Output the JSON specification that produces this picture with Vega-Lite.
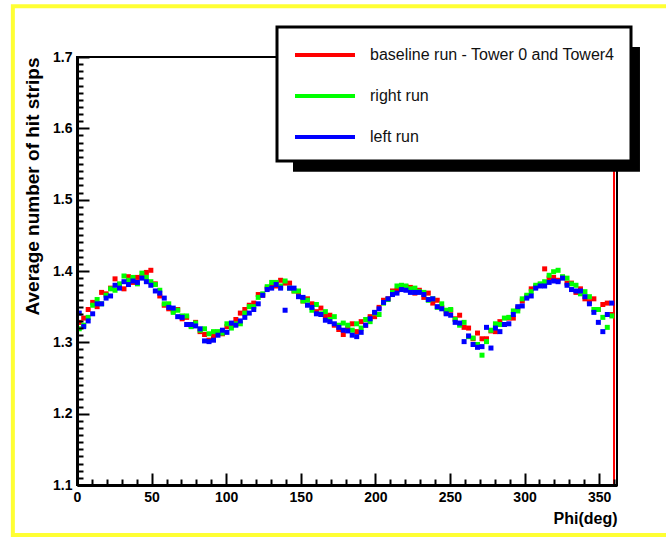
{
  "$schema": "https://vega.github.io/schema/vega-lite/v6.json",
  "width": 540,
  "height": 428,
  "autosize": {"type": "none"},
  "padding": {"left": 77, "top": 57, "right": 49, "bottom": 55},
  "background": "white",
  "config": {
    "font": "Liberation Sans",
    "view": {"stroke": "black", "strokeWidth": 2},
    "axis": {"labelFlush": false, "labelOverlap": false, "grid": false, "tickColor": "black", "domainColor": "black", "labelColor": "black", "titleColor": "black"}
  },
  "resolve": {"axis": {"x": "independent", "y": "independent"}, "legend": {"color": "independent"}},
  "layer": [
    {
      "data": {"values": [{}]},
      "mark": {"type": "rect", "filled": false, "stroke": "#ffff33", "strokeWidth": 4},
      "encoding": {
        "x": {"datum": -43, "type": "quantitative", "scale": {"domain": [0, 362], "nice": false, "zero": false}, "axis": null},
        "x2": {"datum": 430},
        "y": {"datum": 1.771, "type": "quantitative", "scale": {"domain": [1.1, 1.7], "nice": false, "zero": false}, "axis": null},
        "y2": {"datum": 1.03}
      }
    },
    {
      "data": {"values": [{}]},
      "mark": {"type": "rule", "color": "#ff0000", "strokeWidth": 2},
      "encoding": {
        "x": {"datum": 360, "type": "quantitative", "axis": null},
        "y": {"datum": 1.1, "type": "quantitative", "axis": null},
        "y2": {"datum": 1.7}
      }
    },
    {
      "data": {"values": [{}]},
      "mark": {"type": "rect", "fill": "black"},
      "encoding": {
        "x": {"datum": 144.8, "type": "quantitative", "axis": null},
        "x2": {"datum": 377.4},
        "y": {"datum": 1.714, "type": "quantitative", "axis": null},
        "y2": {"datum": 1.539}
      }
    },
    {
      "data": {"name": "pts"},
      "transform": [{"filter": "false"}],
      "mark": {"type": "line"},
      "encoding": {
        "x": {"field": "phi", "type": "quantitative", "axis": null},
        "y": {"field": "v", "type": "quantitative", "axis": null},
        "color": {
          "field": "run", "type": "nominal",
          "scale": {"domain": ["B", "R", "L"], "range": ["#ff0000", "#00ff00", "#0000ff"]},
          "legend": {
            "orient": "none", "legendX": 200, "legendY": -30, "title": null,
            "symbolType": "M-1,0H5", "symbolSize": 400, "symbolStrokeWidth": 4,
            "labelFontSize": 16, "labelColor": "#111", "labelOffset": 53, "labelLimit": 400,
            "labelExpr": "datum.value == 'B' ? 'baseline run - Tower 0 and Tower4' : datum.value == 'R' ? 'right run' : 'left run'",
            "strokeColor": "black", "fillColor": "white", "padding": 16, "rowPadding": 21,
            "encode": {"legend": {"update": {"strokeWidth": {"value": 3}}}}
          }
        }
      }
    },
    {
      "data": {"name": "pts"},
      "mark": {"type": "square", "size": 25, "opacity": 1},
      "encoding": {
        "x": {"field": "phi", "type": "quantitative", "axis": {"orient": "bottom", "zindex": 1,
          "values": [0,10,20,30,40,50,60,70,80,90,100,110,120,130,140,150,160,170,180,190,200,210,220,230,240,250,260,270,280,290,300,310,320,330,340,350,360],
          "labelExpr": "datum.value % 50 == 0 && datum.value < 360 ? datum.label : ''",
          "tickSize": -12, "tickWidth": 2,
          "tickDash": {"condition": {"test": "datum.value % 50 == 0", "value": [100, 0]}, "value": [6, 40]},
          "domainWidth": 3, "labelFontSize": 14, "labelFontWeight": "bold", "labelPadding": 17,
          "title": "Phi(deg)", "titleFontSize": 16, "titleFontWeight": "bold", "titleAnchor": "end", "titlePadding": 6}},
        "y": {"field": "v", "type": "quantitative", "axis": {"orient": "left", "zindex": 1,
          "values": [1.1,1.11,1.12,1.13,1.14,1.15,1.16,1.17,1.18,1.19,1.2,1.21,1.22,1.23,1.24,1.25,1.26,1.27,1.28,1.29,1.3,1.31,1.32,1.33,1.34,1.35,1.36,1.37,1.38,1.39,1.4,1.41,1.42,1.43,1.44,1.45,1.46,1.47,1.48,1.49,1.5,1.51,1.52,1.53,1.54,1.55,1.56,1.57,1.58,1.59,1.6,1.61,1.62,1.63,1.64,1.65,1.66,1.67,1.68,1.69,1.7],
          "labelExpr": "abs(datum.value * 10 - round(datum.value * 10)) < 0.001 ? format(datum.value, '.1f') : ''",
          "tickSize": -12, "tickWidth": 2,
          "tickDash": {"condition": {"test": "abs(datum.value * 10 - round(datum.value * 10)) < 0.001", "value": [100, 0]}, "value": [6, 40]},
          "domainWidth": 3, "labelFontSize": 14, "labelFontWeight": "bold", "labelPadding": 17,
          "title": "Average number of hit strips", "titleFontSize": 19, "titleFontWeight": "bold", "titleAnchor": "end", "titlePadding": 10}},
        "color": {"field": "run", "type": "nominal", "legend": null}
      }
    }
  ],
  "datasets": {
    "pts": [
{"phi":1.5,"run":"B","v":1.328},{"phi":4.5,"run":"B","v":1.334},{"phi":7.5,"run":"B","v":1.346},{"phi":10.5,"run":"B","v":1.356},{"phi":13.5,"run":"B","v":1.350},{"phi":16.5,"run":"B","v":1.370},{"phi":19.5,"run":"B","v":1.368},{"phi":22.5,"run":"B","v":1.376},{"phi":25.5,"run":"B","v":1.389},{"phi":28.5,"run":"B","v":1.381},
{"phi":31.5,"run":"B","v":1.375},{"phi":34.5,"run":"B","v":1.392},{"phi":37.5,"run":"B","v":1.384},{"phi":40.5,"run":"B","v":1.391},{"phi":43.5,"run":"B","v":1.392},{"phi":46.5,"run":"B","v":1.398},{"phi":49.5,"run":"B","v":1.401},{"phi":52.5,"run":"B","v":1.382},{"phi":55.5,"run":"B","v":1.365},{"phi":58.5,"run":"B","v":1.352},
{"phi":61.5,"run":"B","v":1.347},{"phi":64.5,"run":"B","v":1.344},{"phi":67.5,"run":"B","v":1.346},{"phi":70.5,"run":"B","v":1.333},{"phi":73.5,"run":"B","v":1.335},{"phi":76.5,"run":"B","v":1.324},{"phi":79.5,"run":"B","v":1.328},{"phi":82.5,"run":"B","v":1.315},{"phi":85.5,"run":"B","v":1.311},{"phi":88.5,"run":"B","v":1.303},
{"phi":91.5,"run":"B","v":1.309},{"phi":94.5,"run":"B","v":1.314},{"phi":97.5,"run":"B","v":1.312},{"phi":100.5,"run":"B","v":1.322},{"phi":103.5,"run":"B","v":1.323},{"phi":106.5,"run":"B","v":1.332},{"phi":109.5,"run":"B","v":1.341},{"phi":112.5,"run":"B","v":1.346},{"phi":115.5,"run":"B","v":1.352},{"phi":118.5,"run":"B","v":1.355},
{"phi":121.5,"run":"B","v":1.367},{"phi":124.5,"run":"B","v":1.366},{"phi":127.5,"run":"B","v":1.376},{"phi":130.5,"run":"B","v":1.379},{"phi":133.5,"run":"B","v":1.379},{"phi":136.5,"run":"B","v":1.387},{"phi":139.5,"run":"B","v":1.383},{"phi":142.5,"run":"B","v":1.383},{"phi":145.5,"run":"B","v":1.372},{"phi":148.5,"run":"B","v":1.370},
{"phi":151.5,"run":"B","v":1.358},{"phi":154.5,"run":"B","v":1.361},{"phi":157.5,"run":"B","v":1.354},{"phi":160.5,"run":"B","v":1.343},{"phi":163.5,"run":"B","v":1.348},{"phi":166.5,"run":"B","v":1.337},{"phi":169.5,"run":"B","v":1.338},{"phi":172.5,"run":"B","v":1.324},{"phi":175.5,"run":"B","v":1.318},{"phi":178.5,"run":"B","v":1.311},
{"phi":181.5,"run":"B","v":1.320},{"phi":184.5,"run":"B","v":1.326},{"phi":187.5,"run":"B","v":1.315},{"phi":190.5,"run":"B","v":1.329},{"phi":193.5,"run":"B","v":1.324},{"phi":196.5,"run":"B","v":1.336},{"phi":199.5,"run":"B","v":1.336},{"phi":202.5,"run":"B","v":1.349},{"phi":205.5,"run":"B","v":1.359},{"phi":208.5,"run":"B","v":1.361},
{"phi":211.5,"run":"B","v":1.372},{"phi":214.5,"run":"B","v":1.373},{"phi":217.5,"run":"B","v":1.379},{"phi":220.5,"run":"B","v":1.378},{"phi":223.5,"run":"B","v":1.377},{"phi":226.5,"run":"B","v":1.369},{"phi":229.5,"run":"B","v":1.373},{"phi":232.5,"run":"B","v":1.363},{"phi":235.5,"run":"B","v":1.369},{"phi":238.5,"run":"B","v":1.355},
{"phi":241.5,"run":"B","v":1.359},{"phi":244.5,"run":"B","v":1.349},{"phi":247.5,"run":"B","v":1.341},{"phi":250.5,"run":"B","v":1.345},{"phi":253.5,"run":"B","v":1.333},{"phi":256.5,"run":"B","v":1.338},{"phi":259.5,"run":"B","v":1.321},{"phi":262.5,"run":"B","v":1.320},{"phi":265.5,"run":"B","v":1.305},{"phi":268.5,"run":"B","v":1.313},
{"phi":271.5,"run":"B","v":1.305},{"phi":274.5,"run":"B","v":1.305},{"phi":277.5,"run":"B","v":1.316},{"phi":280.5,"run":"B","v":1.315},{"phi":283.5,"run":"B","v":1.329},{"phi":286.5,"run":"B","v":1.325},{"phi":289.5,"run":"B","v":1.334},{"phi":292.5,"run":"B","v":1.334},{"phi":295.5,"run":"B","v":1.348},{"phi":298.5,"run":"B","v":1.358},
{"phi":301.5,"run":"B","v":1.364},{"phi":304.5,"run":"B","v":1.375},{"phi":307.5,"run":"B","v":1.378},{"phi":310.5,"run":"B","v":1.380},{"phi":313.5,"run":"B","v":1.403},{"phi":316.5,"run":"B","v":1.390},{"phi":319.5,"run":"B","v":1.391},{"phi":322.5,"run":"B","v":1.387},{"phi":325.5,"run":"B","v":1.391},{"phi":328.5,"run":"B","v":1.383},
{"phi":331.5,"run":"B","v":1.383},{"phi":334.5,"run":"B","v":1.370},{"phi":337.5,"run":"B","v":1.375},{"phi":340.5,"run":"B","v":1.361},{"phi":343.5,"run":"B","v":1.357},{"phi":346.5,"run":"B","v":1.361},{"phi":349.5,"run":"B","v":1.346},{"phi":352.5,"run":"B","v":1.353},{"phi":355.5,"run":"B","v":1.355},{"phi":358.5,"run":"B","v":1.339},
{"phi":1.5,"run":"R","v":1.319},{"phi":4.5,"run":"R","v":1.324},{"phi":7.5,"run":"R","v":1.335},{"phi":10.5,"run":"R","v":1.352},{"phi":13.5,"run":"R","v":1.360},{"phi":16.5,"run":"R","v":1.354},{"phi":19.5,"run":"R","v":1.366},{"phi":22.5,"run":"R","v":1.375},{"phi":25.5,"run":"R","v":1.373},{"phi":28.5,"run":"R","v":1.382},
{"phi":31.5,"run":"R","v":1.393},{"phi":34.5,"run":"R","v":1.387},{"phi":37.5,"run":"R","v":1.391},{"phi":40.5,"run":"R","v":1.382},{"phi":43.5,"run":"R","v":1.397},{"phi":46.5,"run":"R","v":1.391},{"phi":49.5,"run":"R","v":1.385},{"phi":52.5,"run":"R","v":1.381},{"phi":55.5,"run":"R","v":1.373},{"phi":58.5,"run":"R","v":1.354},
{"phi":61.5,"run":"R","v":1.354},{"phi":64.5,"run":"R","v":1.342},{"phi":67.5,"run":"R","v":1.345},{"phi":70.5,"run":"R","v":1.337},{"phi":73.5,"run":"R","v":1.337},{"phi":76.5,"run":"R","v":1.322},{"phi":79.5,"run":"R","v":1.327},{"phi":82.5,"run":"R","v":1.317},{"phi":85.5,"run":"R","v":1.319},{"phi":88.5,"run":"R","v":1.312},
{"phi":91.5,"run":"R","v":1.315},{"phi":94.5,"run":"R","v":1.315},{"phi":97.5,"run":"R","v":1.313},{"phi":100.5,"run":"R","v":1.326},{"phi":103.5,"run":"R","v":1.320},{"phi":106.5,"run":"R","v":1.326},{"phi":109.5,"run":"R","v":1.326},{"phi":112.5,"run":"R","v":1.341},{"phi":115.5,"run":"R","v":1.350},{"phi":118.5,"run":"R","v":1.350},
{"phi":121.5,"run":"R","v":1.363},{"phi":124.5,"run":"R","v":1.368},{"phi":127.5,"run":"R","v":1.378},{"phi":130.5,"run":"R","v":1.384},{"phi":133.5,"run":"R","v":1.384},{"phi":136.5,"run":"R","v":1.379},{"phi":139.5,"run":"R","v":1.386},{"phi":142.5,"run":"R","v":1.376},{"phi":145.5,"run":"R","v":1.372},{"phi":148.5,"run":"R","v":1.372},
{"phi":151.5,"run":"R","v":1.358},{"phi":154.5,"run":"R","v":1.359},{"phi":157.5,"run":"R","v":1.345},{"phi":160.5,"run":"R","v":1.353},{"phi":163.5,"run":"R","v":1.340},{"phi":166.5,"run":"R","v":1.343},{"phi":169.5,"run":"R","v":1.332},{"phi":172.5,"run":"R","v":1.336},{"phi":175.5,"run":"R","v":1.324},{"phi":178.5,"run":"R","v":1.327},
{"phi":181.5,"run":"R","v":1.324},{"phi":184.5,"run":"R","v":1.317},{"phi":187.5,"run":"R","v":1.326},{"phi":190.5,"run":"R","v":1.320},{"phi":193.5,"run":"R","v":1.332},{"phi":196.5,"run":"R","v":1.329},{"phi":199.5,"run":"R","v":1.341},{"phi":202.5,"run":"R","v":1.339},{"phi":205.5,"run":"R","v":1.355},{"phi":208.5,"run":"R","v":1.360},
{"phi":211.5,"run":"R","v":1.370},{"phi":214.5,"run":"R","v":1.379},{"phi":217.5,"run":"R","v":1.380},{"phi":220.5,"run":"R","v":1.379},{"phi":223.5,"run":"R","v":1.375},{"phi":226.5,"run":"R","v":1.376},{"phi":229.5,"run":"R","v":1.371},{"phi":232.5,"run":"R","v":1.370},{"phi":235.5,"run":"R","v":1.359},{"phi":238.5,"run":"R","v":1.361},
{"phi":241.5,"run":"R","v":1.349},{"phi":244.5,"run":"R","v":1.354},{"phi":247.5,"run":"R","v":1.345},{"phi":250.5,"run":"R","v":1.346},{"phi":253.5,"run":"R","v":1.332},{"phi":256.5,"run":"R","v":1.324},{"phi":259.5,"run":"R","v":1.328},{"phi":262.5,"run":"R","v":1.308},{"phi":265.5,"run":"R","v":1.306},{"phi":268.5,"run":"R","v":1.297},
{"phi":271.5,"run":"R","v":1.282},{"phi":274.5,"run":"R","v":1.301},{"phi":277.5,"run":"R","v":1.317},{"phi":280.5,"run":"R","v":1.326},{"phi":283.5,"run":"R","v":1.325},{"phi":286.5,"run":"R","v":1.334},{"phi":289.5,"run":"R","v":1.335},{"phi":292.5,"run":"R","v":1.344},{"phi":295.5,"run":"R","v":1.344},{"phi":298.5,"run":"R","v":1.361},
{"phi":301.5,"run":"R","v":1.366},{"phi":304.5,"run":"R","v":1.371},{"phi":307.5,"run":"R","v":1.380},{"phi":310.5,"run":"R","v":1.382},{"phi":313.5,"run":"R","v":1.385},{"phi":316.5,"run":"R","v":1.394},{"phi":319.5,"run":"R","v":1.399},{"phi":322.5,"run":"R","v":1.401},{"phi":325.5,"run":"R","v":1.392},{"phi":328.5,"run":"R","v":1.390},
{"phi":331.5,"run":"R","v":1.382},{"phi":334.5,"run":"R","v":1.380},{"phi":337.5,"run":"R","v":1.368},{"phi":340.5,"run":"R","v":1.371},{"phi":343.5,"run":"R","v":1.364},{"phi":346.5,"run":"R","v":1.346},{"phi":349.5,"run":"R","v":1.346},{"phi":352.5,"run":"R","v":1.335},{"phi":355.5,"run":"R","v":1.321},{"phi":358.5,"run":"R","v":1.337},
{"phi":1.5,"run":"L","v":1.341},{"phi":4.5,"run":"L","v":1.322},{"phi":7.5,"run":"L","v":1.330},{"phi":10.5,"run":"L","v":1.340},{"phi":13.5,"run":"L","v":1.354},{"phi":16.5,"run":"L","v":1.354},{"phi":19.5,"run":"L","v":1.362},{"phi":22.5,"run":"L","v":1.365},{"phi":25.5,"run":"L","v":1.380},{"phi":28.5,"run":"L","v":1.376},
{"phi":31.5,"run":"L","v":1.385},{"phi":34.5,"run":"L","v":1.381},{"phi":37.5,"run":"L","v":1.386},{"phi":40.5,"run":"L","v":1.384},{"phi":43.5,"run":"L","v":1.390},{"phi":46.5,"run":"L","v":1.385},{"phi":49.5,"run":"L","v":1.380},{"phi":52.5,"run":"L","v":1.372},{"phi":55.5,"run":"L","v":1.369},{"phi":58.5,"run":"L","v":1.362},
{"phi":61.5,"run":"L","v":1.349},{"phi":64.5,"run":"L","v":1.348},{"phi":67.5,"run":"L","v":1.336},{"phi":70.5,"run":"L","v":1.335},{"phi":73.5,"run":"L","v":1.325},{"phi":76.5,"run":"L","v":1.325},{"phi":79.5,"run":"L","v":1.323},{"phi":82.5,"run":"L","v":1.319},{"phi":85.5,"run":"L","v":1.302},{"phi":88.5,"run":"L","v":1.301},
{"phi":91.5,"run":"L","v":1.303},{"phi":94.5,"run":"L","v":1.310},{"phi":97.5,"run":"L","v":1.317},{"phi":100.5,"run":"L","v":1.314},{"phi":103.5,"run":"L","v":1.327},{"phi":106.5,"run":"L","v":1.324},{"phi":109.5,"run":"L","v":1.330},{"phi":112.5,"run":"L","v":1.335},{"phi":115.5,"run":"L","v":1.341},{"phi":118.5,"run":"L","v":1.346},
{"phi":121.5,"run":"L","v":1.354},{"phi":124.5,"run":"L","v":1.366},{"phi":127.5,"run":"L","v":1.374},{"phi":130.5,"run":"L","v":1.376},{"phi":133.5,"run":"L","v":1.381},{"phi":136.5,"run":"L","v":1.376},{"phi":139.5,"run":"L","v":1.345},{"phi":142.5,"run":"L","v":1.376},{"phi":145.5,"run":"L","v":1.376},{"phi":148.5,"run":"L","v":1.364},
{"phi":151.5,"run":"L","v":1.363},{"phi":154.5,"run":"L","v":1.352},{"phi":157.5,"run":"L","v":1.349},{"phi":160.5,"run":"L","v":1.340},{"phi":163.5,"run":"L","v":1.339},{"phi":166.5,"run":"L","v":1.331},{"phi":169.5,"run":"L","v":1.329},{"phi":172.5,"run":"L","v":1.326},{"phi":175.5,"run":"L","v":1.321},{"phi":178.5,"run":"L","v":1.317},
{"phi":181.5,"run":"L","v":1.316},{"phi":184.5,"run":"L","v":1.310},{"phi":187.5,"run":"L","v":1.308},{"phi":190.5,"run":"L","v":1.314},{"phi":193.5,"run":"L","v":1.324},{"phi":196.5,"run":"L","v":1.333},{"phi":199.5,"run":"L","v":1.342},{"phi":202.5,"run":"L","v":1.347},{"phi":205.5,"run":"L","v":1.356},{"phi":208.5,"run":"L","v":1.361},
{"phi":211.5,"run":"L","v":1.367},{"phi":214.5,"run":"L","v":1.369},{"phi":217.5,"run":"L","v":1.374},{"phi":220.5,"run":"L","v":1.373},{"phi":223.5,"run":"L","v":1.370},{"phi":226.5,"run":"L","v":1.370},{"phi":229.5,"run":"L","v":1.370},{"phi":232.5,"run":"L","v":1.367},{"phi":235.5,"run":"L","v":1.360},{"phi":238.5,"run":"L","v":1.361},
{"phi":241.5,"run":"L","v":1.350},{"phi":244.5,"run":"L","v":1.347},{"phi":247.5,"run":"L","v":1.340},{"phi":250.5,"run":"L","v":1.338},{"phi":253.5,"run":"L","v":1.328},{"phi":256.5,"run":"L","v":1.327},{"phi":259.5,"run":"L","v":1.301},{"phi":262.5,"run":"L","v":1.309},{"phi":265.5,"run":"L","v":1.297},{"phi":268.5,"run":"L","v":1.293},
{"phi":271.5,"run":"L","v":1.294},{"phi":274.5,"run":"L","v":1.321},{"phi":277.5,"run":"L","v":1.292},{"phi":280.5,"run":"L","v":1.320},{"phi":283.5,"run":"L","v":1.315},{"phi":286.5,"run":"L","v":1.325},{"phi":289.5,"run":"L","v":1.326},{"phi":292.5,"run":"L","v":1.339},{"phi":295.5,"run":"L","v":1.350},{"phi":298.5,"run":"L","v":1.351},
{"phi":301.5,"run":"L","v":1.362},{"phi":304.5,"run":"L","v":1.365},{"phi":307.5,"run":"L","v":1.376},{"phi":310.5,"run":"L","v":1.379},{"phi":313.5,"run":"L","v":1.379},{"phi":316.5,"run":"L","v":1.384},{"phi":319.5,"run":"L","v":1.386},{"phi":322.5,"run":"L","v":1.385},{"phi":325.5,"run":"L","v":1.390},{"phi":328.5,"run":"L","v":1.380},
{"phi":331.5,"run":"L","v":1.374},{"phi":334.5,"run":"L","v":1.372},{"phi":337.5,"run":"L","v":1.372},{"phi":340.5,"run":"L","v":1.364},{"phi":343.5,"run":"L","v":1.354},{"phi":346.5,"run":"L","v":1.342},{"phi":349.5,"run":"L","v":1.328},{"phi":352.5,"run":"L","v":1.315},{"phi":355.5,"run":"L","v":1.339},{"phi":358.5,"run":"L","v":1.355}
    ]
  }
}
